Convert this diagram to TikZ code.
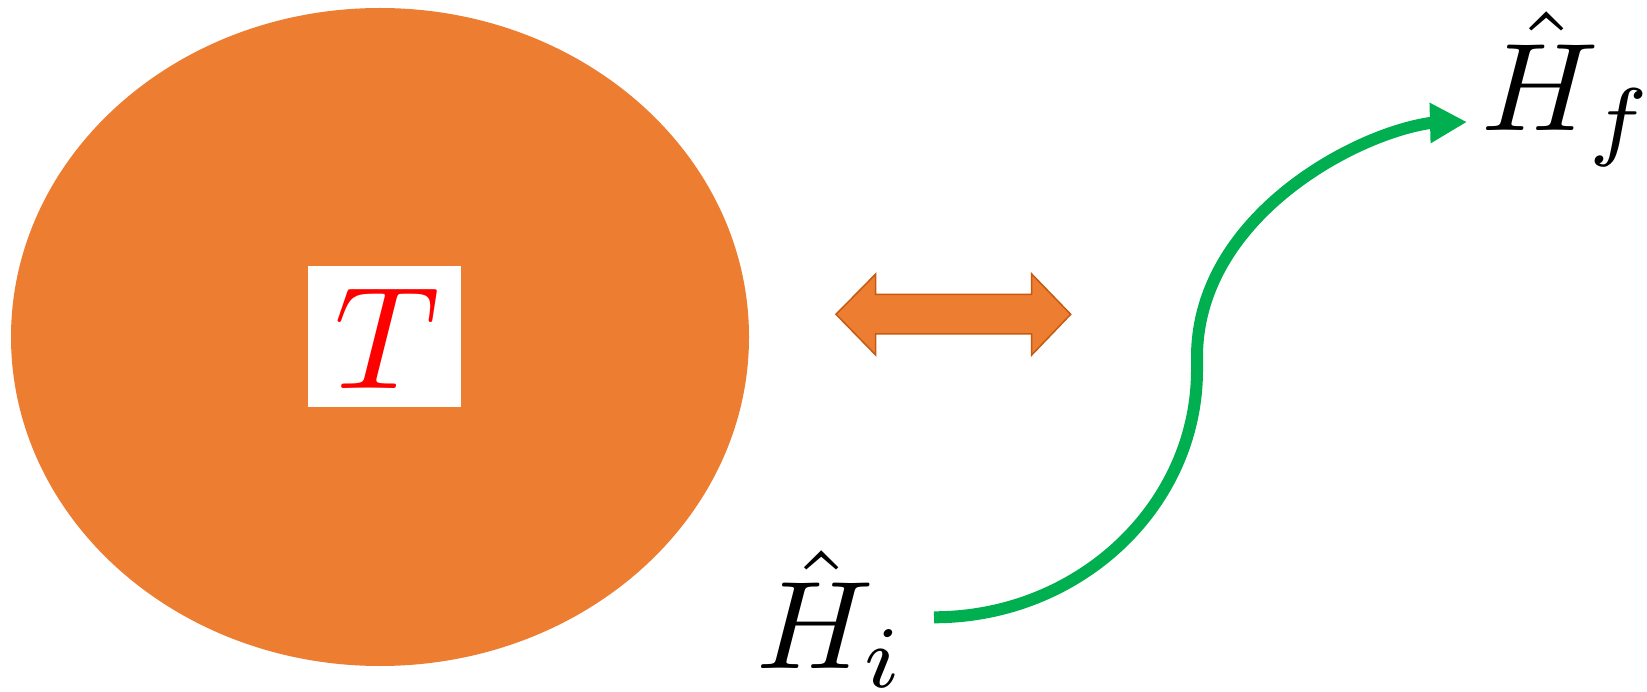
\documentclass[tikz,border=0pt]{standalone}
\usetikzlibrary{arrows.meta}
\definecolor{offorange}{HTML}{ED7D31}
\definecolor{offorangedark}{HTML}{C55A11}
\definecolor{offgreen}{HTML}{00B050}
\tikzset{
  bigmath/.style={inner sep=0pt, scale=12.5, xscale=1.03},
  greenflow/.style={draw=offgreen, line width=12pt, -{Triangle[length=37pt,width=38pt]}},
}
\begin{document}
\begin{tikzpicture}[x=1pt,y=-1pt]
\useasboundingbox (0,0) rectangle (1647,692);
% big ellipse
\fill[offorange] (380,337) ellipse [x radius=369, y radius=329];
% white box with T
\node[fill=white, minimum width=153pt, minimum height=141pt, inner sep=0pt] (tbox) at (384.5,336.5) {};
\node[inner sep=0pt, scale=14.6, text=red] (T) at (387,339) {$T$};
% double arrow
\draw[fill=offorange, draw=offorangedark, line width=1.5pt, line join=miter]
  (836,314.3) -- (875.7,274) -- (875.7,294.3) -- (1031.7,294.3) -- (1031.7,274)
  -- (1070.7,314.3) -- (1031.7,355) -- (1031.7,334) -- (875.7,334) -- (875.7,355) -- cycle;
% labels
\node[bigmath] (Hi) at (831,619) {$\hat{H}_i$};
\node[bigmath] (Hf) at (1568,89) {$\hat{H}_f$};
% green arrow
\coordinate (s) at (934,617.3);
\coordinate (m1) at (1197,370);
\coordinate (m2) at (1197,357);
\coordinate (e1) at (1430,123);
\coordinate (e) at (1467,122);
\draw[greenflow] (s) .. controls (1079,617.3) and (1197,506) .. (m1) -- (m2)
  .. controls (1197,220) and (1350,135) .. (e1) -- (e);
\end{tikzpicture}
\end{document}
